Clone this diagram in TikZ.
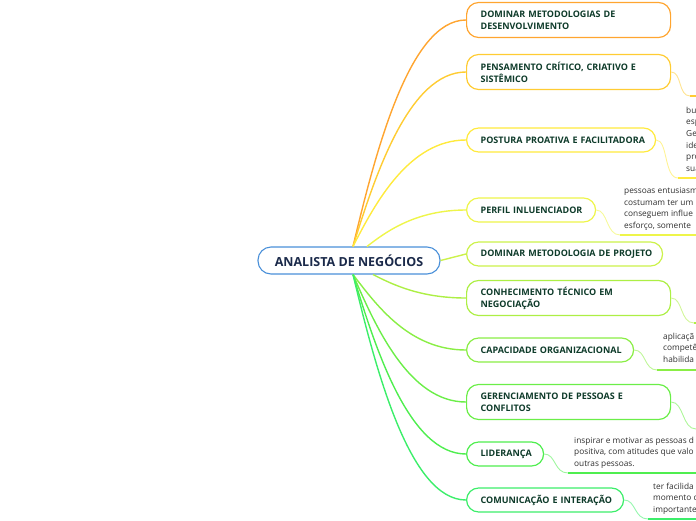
\documentclass[tikz,border=0pt]{standalone}
\usepackage{fontspec}
\setmainfont{Open Sans}
\usetikzlibrary{calc}
\definecolor{kA}{HTML}{FFA530}
\definecolor{kB}{HTML}{FFCC33}
\definecolor{kC}{HTML}{FFEA3D}
\definecolor{kD}{HTML}{EEF54A}
\definecolor{kE}{HTML}{CCF24A}
\definecolor{kF}{HTML}{ADEF45}
\definecolor{kG}{HTML}{8AEE45}
\definecolor{kH}{HTML}{6BEE48}
\definecolor{kI}{HTML}{4FEE4F}
\definecolor{kJ}{HTML}{3CEE6A}
\definecolor{rootblue}{HTML}{4A90D9}
\definecolor{roottext}{HTML}{1B2A4A}
\definecolor{kidtext}{HTML}{0E3B2A}
\definecolor{dettext}{HTML}{2E2E2E}
\begin{document}
\begin{tikzpicture}[x=1pt,y=-1pt,
  rootnode/.style={draw=rootblue, line width=1.1pt, rounded corners=13pt, fill=white,
    minimum width=182pt, minimum height=27pt, inner sep=0pt, text=roottext,
    font=\bfseries\fontsize{12.5}{15}\selectfont},
  kid/.style={draw=#1, line width=1.2pt, rounded corners=12pt, fill=white, anchor=west,
    inner xsep=14pt, inner ysep=0pt, align=left, text=kidtext,
    font=\bfseries\fontsize{9}{12}\selectfont},
  one/.style={minimum height=24pt},
  two/.style={minimum height=35pt},
  branch/.style={draw=#1, line width=1.4pt},
  twig/.style={draw=#1!55, line width=0.9pt},
  under/.style={draw=#1, line width=1.4pt},
  detail/.style={anchor=base west, inner sep=0pt, align=left, text=dettext,
    font=\fontsize{8.3}{11.7}\selectfont}
]
\useasboundingbox (0,0) rectangle (696,520);
\clip (0,0) rectangle (696,520);

% root
\node[rootnode] (R) at (349,260.5) {ANALISTA DE NEGÓCIOS};

% children
\node[kid=kA, two, text width=176pt] (N1) at (466,20) {\mbox{DOMINAR METODOLOGIAS DE}\\\mbox{DESENVOLVIMENTO}};
\node[kid=kB, two, text width=176pt] (N2) at (466,72) {\mbox{PENSAMENTO CRÍTICO, CRIATIVO E}\\\mbox{SISTÊMICO}};
\node[kid=kC, one, text width=161pt] (N3) at (466,140) {\mbox{POSTURA PROATIVA E FACILITADORA}};
\node[kid=kD, one, text width=101pt] (N4) at (466,210) {\mbox{PERFIL INLUENCIADOR}};
\node[kid=kE, one, text width=168pt] (N5) at (466,254) {\mbox{DOMINAR METODOLOGIA DE PROJETO}};
\node[kid=kF, two, text width=176pt] (N6) at (466,298) {\mbox{CONHECIMENTO TÉCNICO EM}\\\mbox{NEGOCIAÇÃO}};
\node[kid=kG, one, text width=139pt] (N7) at (466,350) {\mbox{CAPACIDADE ORGANIZACIONAL}};
\node[kid=kH, two, text width=176pt] (N8) at (466,402) {\mbox{GERENCIAMENTO DE PESSOAS E}\\\mbox{CONFLITOS}};
\node[kid=kI, one, text width=49pt] (N9) at (466,454) {\mbox{LIDERANÇA}};
\node[kid=kJ, one, text width=129pt] (N10) at (466,500) {\mbox{COMUNICAÇÃO E INTERAÇÃO}};

% branches from root
\draw[branch=kA] ([xshift=4pt]R.north) .. controls (375.6,151.7) and (409.5,20) .. (N1.west);
\draw[branch=kB] ([xshift=4pt]R.north) .. controls (375.6,173.5) and (409.5,72) .. (N2.west);
\draw[branch=kC] ([xshift=4pt]R.north) .. controls (375.6,202.1) and (409.5,140) .. (N3.west);
\draw[branch=kD] ([xshift=18pt]R.north) .. controls (386.8,231) and (416.5,210) .. (N4.west);
\draw[branch=kE] (R.east) -- (N5.west);
\draw[branch=kF] ([xshift=24pt]R.south) .. controls (391.6,284) and (419.5,298) .. (N6.west);
\draw[branch=kG] ([xshift=4pt]R.south) .. controls (377,305.9) and (409.5,350) .. (N7.west);
\draw[branch=kH] ([xshift=4pt]R.south) .. controls (376,327.8) and (409.5,402) .. (N8.west);
\draw[branch=kI] ([xshift=4pt]R.south) .. controls (375.6,349.6) and (409.5,454) .. (N9.west);
\draw[branch=kJ] ([xshift=4pt]R.south) .. controls (375.6,368.9) and (409.5,500) .. (N10.west);

% detail texts (anchor = baseline of last line)
\node[detail] (T3) at (686,171.5) {bu\\esp\\Ge\\ide\\pro\\sua};
\node[detail] (T4) at (624,228.5) {pessoas entusiasm\\costumam ter um\\conseguem influe\\esforço, somente};
\node[detail] (T7) at (663,362.5) {aplicaçã\\competê\\habilida};
\node[detail] (T9) at (574,466.5) {inspirar e motivar as pessoas d\\positiva, com atitudes que valo\\outras pessoas.};
\node[detail] (T10) at (653,512.5) {ter facilida\\momento c\\importante};

% twig end coordinates
\coordinate (E2) at (690,96);  \coordinate (F2) at (700,96);
\coordinate (E3) at (678,178); \coordinate (F3) at (700,178);
\coordinate (E4) at (620,235); \coordinate (F4) at (700,235);
\coordinate (E6) at (694,323); \coordinate (F6) at (700,323);
\coordinate (E7) at (657,370); \coordinate (F7) at (700,370);
\coordinate (E8) at (696,429); \coordinate (F8) at (700,429);
\coordinate (E9) at (568,473); \coordinate (F9) at (700,473);
\coordinate (E10) at (648,519); \coordinate (F10) at (700,519);

% twigs
\draw[twig=kB] (N2.east) .. controls (682,72) and (678,96) .. (E2);
\draw[under=kB] (E2) -- (F2);
\draw[twig=kC] (N3.east) .. controls (668,140) and (664,178) .. (E3);
\draw[under=kC] (E3) -- (F3);
\draw[twig=kD] (N4.east) .. controls (608,210) and (606,235) .. (E4);
\draw[under=kD] (E4) -- (F4);
\draw[twig=kF] (N6.east) .. controls (683,298) and (680,323) .. (E6);
\draw[under=kF] (E6) -- (F6);
\draw[twig=kG] (N7.east) .. controls (646,350) and (644,370) .. (E7);
\draw[under=kG] (E7) -- (F7);
\draw[twig=kH] (N8.east) .. controls (684,402) and (682,429) .. (E8);
\draw[under=kH] (E8) -- (F8);
\draw[twig=kI] (N9.east) .. controls (556,454) and (554,473) .. (E9);
\draw[under=kI] (E9) -- (F9);
\draw[twig=kJ] (N10.east) .. controls (636,500) and (634,519) .. (E10);
\draw[under=kJ] (E10) -- (F10);
\end{tikzpicture}
\end{document}
